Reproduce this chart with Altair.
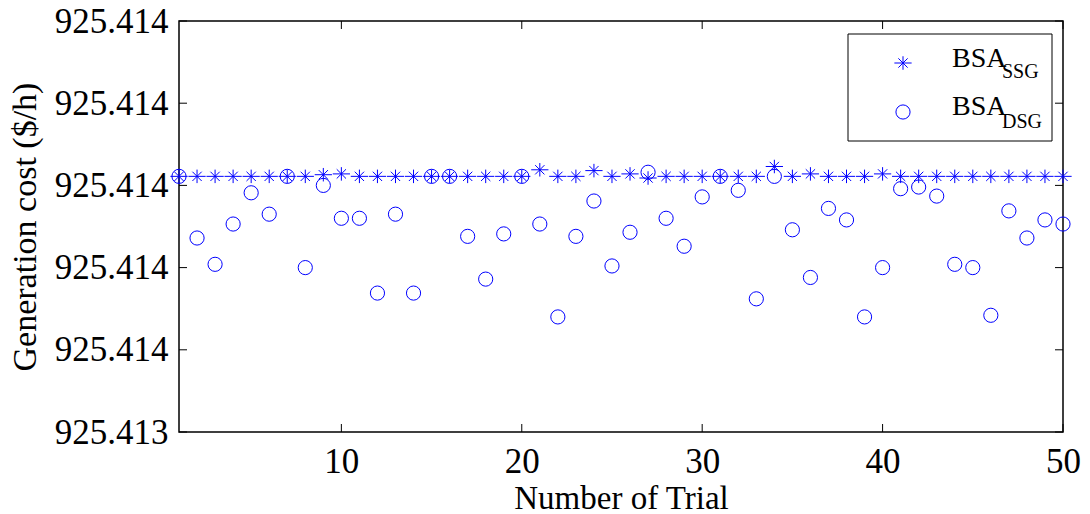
import altair as alt
import pandas as pd

trials = list(range(1, 51))

ssg_cost = [925.413811] * 50
for t, v in {9: 925.413813, 10: 925.413814, 21: 925.413819, 24: 925.413818,
             26: 925.413814, 27: 925.413809, 34: 925.413823, 36: 925.413814,
             40: 925.413814}.items():
    ssg_cost[t - 1] = v

dsg_cost = [
    925.413811, 925.413736, 925.413704, 925.413753, 925.413791,
    925.413765, 925.413811, 925.413700, 925.413800, 925.413760,
    925.413760, 925.413669, 925.413765, 925.413669, 925.413811,
    925.413811, 925.413738, 925.413686, 925.413741, 925.413811,
    925.413753, 925.413640, 925.413738, 925.413781, 925.413702,
    925.413743, 925.413816, 925.413760, 925.413726, 925.413786,
    925.413811, 925.413794, 925.413662, 925.413811, 925.413746,
    925.413688, 925.413772, 925.413758, 925.413640, 925.413700,
    925.413796, 925.413798, 925.413787, 925.413704, 925.413700,
    925.413642, 925.413769, 925.413736, 925.413758, 925.413753,
]

x_ticks = [10, 20, 30, 40, 50]
y_ticks = [925.4135, 925.4136, 925.4137, 925.4138, 925.4139, 925.4140]

FONT = "Times New Roman, Liberation Serif, DejaVu Serif, serif"
BLUE = "#0000ff"
W, H = 884, 411
STAR = "M-1.15,0L1.15,0M0,-0.9L0,0.9M-0.62,-0.62L0.62,0.62M-0.62,0.62L0.62,-0.62"

df_ssg = pd.DataFrame({"trial": trials, "cost": ssg_cost})
df_dsg = pd.DataFrame({"trial": trials, "cost": dsg_cost})
df_xt = pd.DataFrame({"trial": x_ticks})
df_yt = pd.DataFrame({"cost": y_ticks})
one = pd.DataFrame({"a": [0]})

xscale = alt.Scale(domain=[1, 50], nice=False, zero=False)
yscale = alt.Scale(domain=[925.4135, 925.4140], nice=False, zero=False)

x_axis = alt.Axis(values=x_ticks, title="Number of Trial", grid=False, ticks=False,
                  tickSize=0, labelPadding=12, titlePadding=3, domain=False,
                  labelFont=FONT, labelFontSize=35, titleFont=FONT, titleFontSize=33,
                  titleFontWeight="normal", labelColor="black", titleColor="black",
                  labelFlush=False, labelOverlap=False)
y_axis = alt.Axis(values=y_ticks, title="Generation cost ($/h)", grid=False, ticks=False,
                  tickSize=0, labelPadding=11, titlePadding=12, domain=False,
                  labelFont=FONT, labelFontSize=35, titleFont=FONT, titleFontSize=34,
                  titleFontWeight="normal", labelColor="black", titleColor="black",
                  labelExpr="datum.value < 925.41355 ? '925.413' : '925.414'",
                  labelFlush=False, labelOverlap=False, labelBaseline="middle")

X = alt.X("trial:Q", scale=xscale, axis=x_axis)
Y = alt.Y("cost:Q", scale=yscale, axis=y_axis)

circles = alt.Chart(df_dsg).mark_point(shape="circle", size=201, filled=False,
                                       color=BLUE, strokeWidth=1, opacity=1).encode(x=X, y=Y)
stars = alt.Chart(df_ssg).mark_point(shape=STAR, size=225, filled=False,
                                     color=BLUE, strokeWidth=1, opacity=1).encode(x=X, y=Y)

TL = 8
xt_bot = alt.Chart(df_xt).mark_rule(color="black", strokeWidth=1).encode(
    x=X, y=alt.value(H - TL), y2=alt.value(H))
xt_top = alt.Chart(df_xt).mark_rule(color="black", strokeWidth=1).encode(
    x=X, y=alt.value(0), y2=alt.value(TL))
yt_left = alt.Chart(df_yt).mark_rule(color="black", strokeWidth=1).encode(
    y=Y, x=alt.value(0), x2=alt.value(TL))
yt_right = alt.Chart(df_yt).mark_rule(color="black", strokeWidth=1).encode(
    y=Y, x=alt.value(W - TL), x2=alt.value(W))

# legend box
lx0, lx1, ly0, ly1 = 669, 873, 13, 120
leg_box = alt.Chart(one).mark_rect(fill="white", stroke="black", strokeWidth=1).encode(
    x=alt.value(lx0), x2=alt.value(lx1), y=alt.value(ly0), y2=alt.value(ly1))
leg_star = alt.Chart(one).mark_point(shape=STAR, size=225, filled=False, color=BLUE,
                                     strokeWidth=1, opacity=1).encode(
    x=alt.value(724), y=alt.value(42))
leg_circ = alt.Chart(one).mark_point(shape="circle", size=201, filled=False, color=BLUE,
                                     strokeWidth=1, opacity=1).encode(
    x=alt.value(724), y=alt.value(91))


def txt(s, x, y, size):
    return alt.Chart(one).mark_text(font=FONT, fontSize=size, align="left",
                                    baseline="alphabetic", color="black").encode(
        x=alt.value(x), y=alt.value(y), text=alt.value(s))


legend_texts = [
    txt("BSA", 773, 46, 28), txt("SSG", 823, 57, 20),
    txt("BSA", 773, 94, 28), txt("DSG", 823, 107, 20),
]

chart = alt.layer(
    circles, stars, xt_bot, xt_top, yt_left, yt_right,
    leg_box, leg_star, leg_circ, *legend_texts,
).properties(
    width=W, height=H,
    autosize=alt.AutoSizeParams(type="none"),
    padding={"left": 179, "top": 21, "right": 27, "bottom": 82},
    background="white",
).configure_view(stroke="black", strokeWidth=1.5)

chart.save("out.html", embed_options={"renderer": "svg", "actions": False})
